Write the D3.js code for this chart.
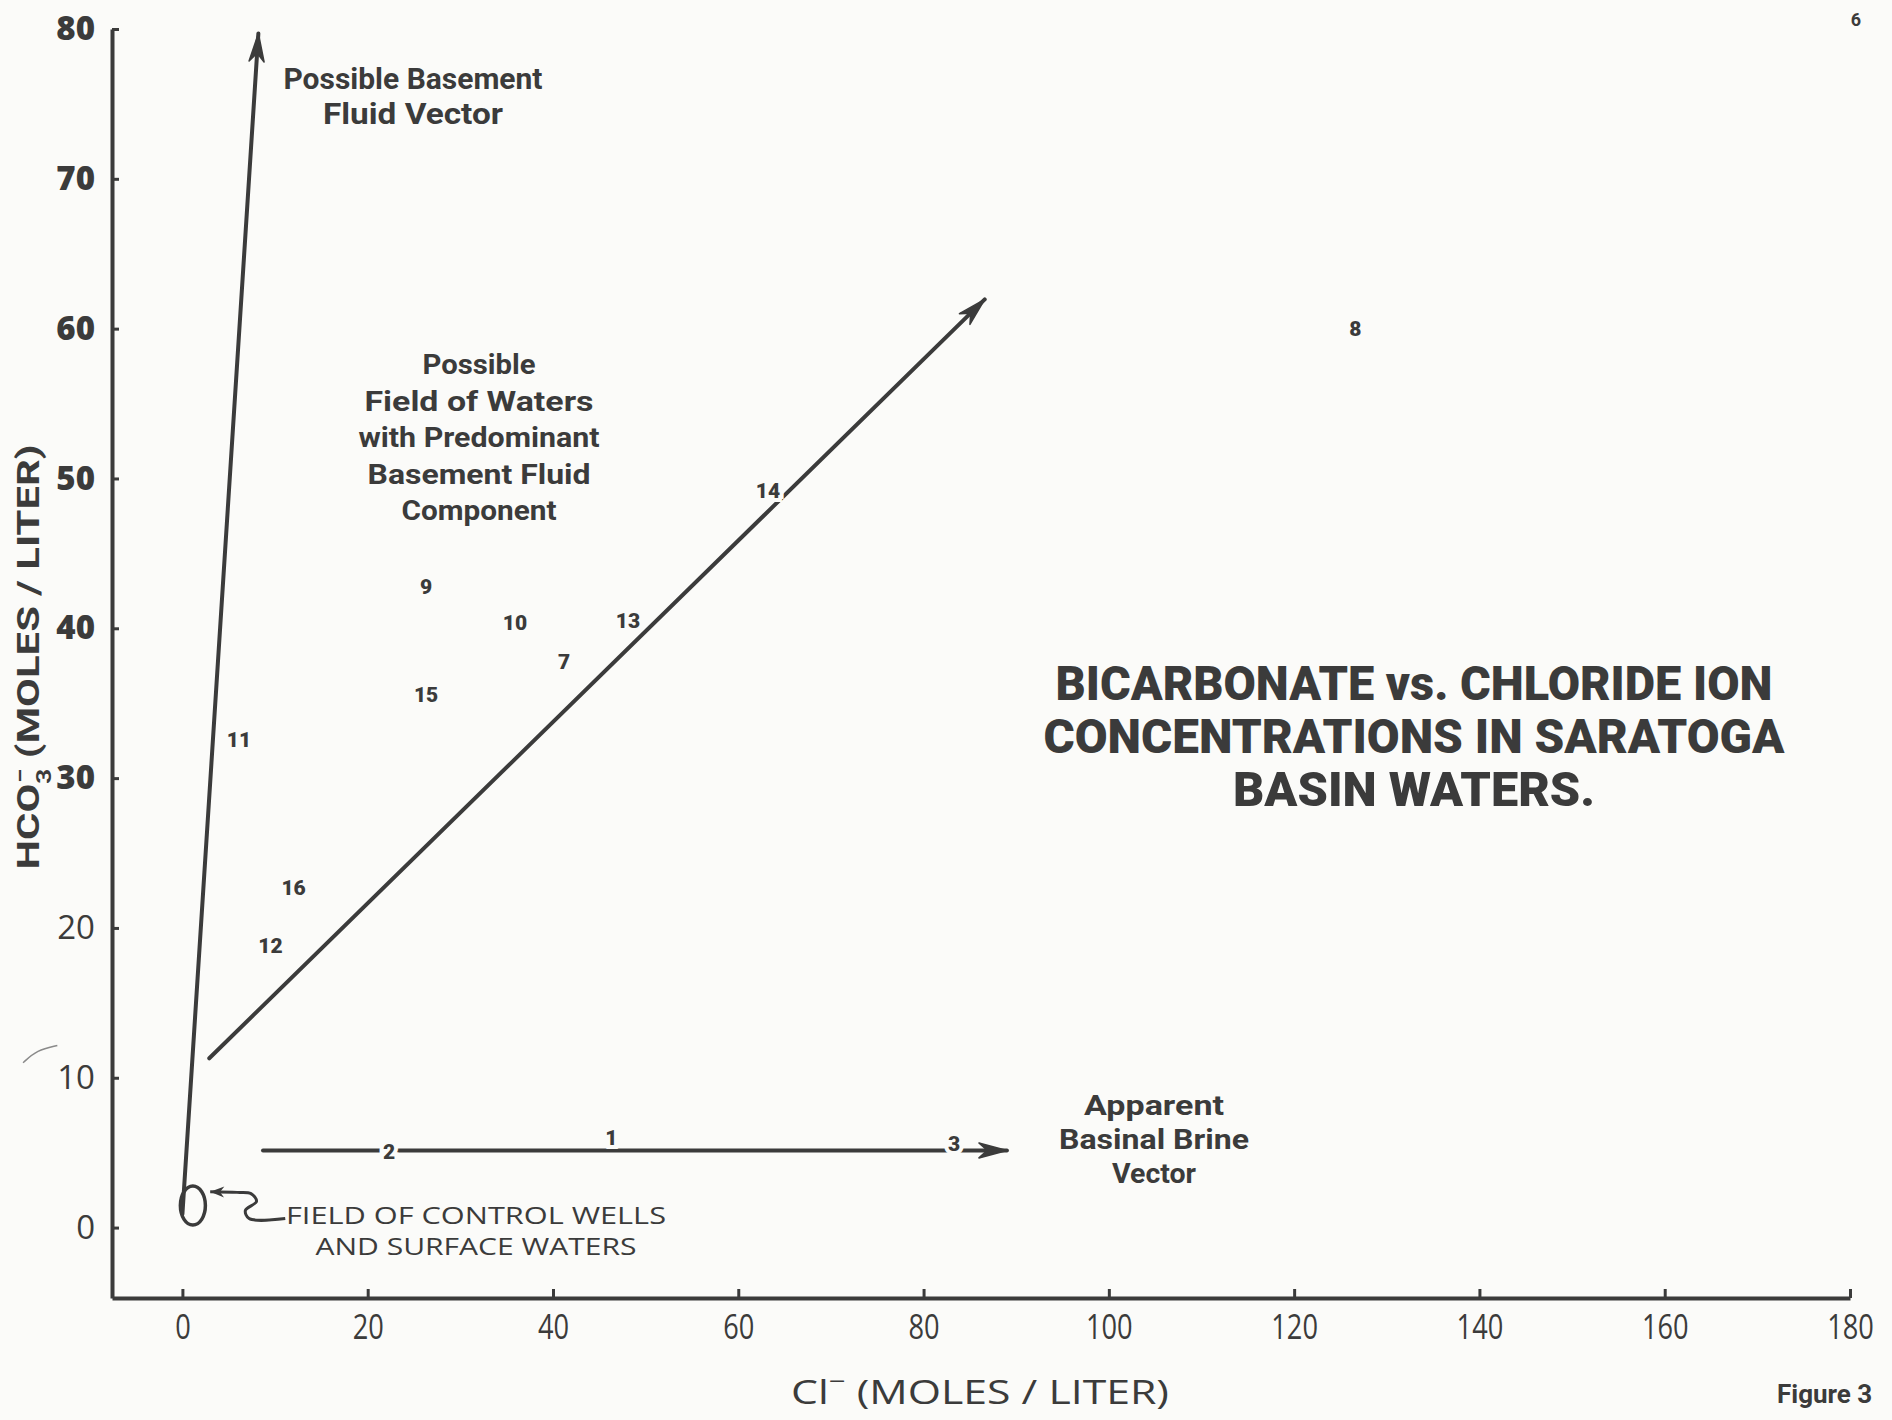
<!DOCTYPE html>
<html>
<head>
<meta charset="utf-8">
<script src="https://cdn.jsdelivr.net/npm/d3@7"></script>
<style>
  body { margin: 0; background: #fbfbf9; }
  svg { display: block; }
</style>
</head>
<body>
<svg id="chart" width="1892" height="1420"></svg>
<script>
// axis ticks
const xTicks = [0, 20, 40, 60, 80, 100, 120, 140, 160, 180];
const yTicks = [0, 10, 20, 30, 40, 50, 60, 70, 80];

// sample numbers plotted as labels (Cl-, HCO3-)
const sampleIds = ["8", "14", "9", "10", "13", "7", "15", "11", "16", "12", "2", "1", "3"];
const sampleCl = [126.6, 63.2, 26.3, 35.9, 48.1, 41.2, 26.3, 6.1, 12.0, 9.5, 22.3, 46.3, 83.3];
const sampleHco3 = [60.0, 49.2, 42.8, 40.4, 40.5, 37.8, 35.6, 32.6, 22.7, 18.8, 5.1, 6.0, 5.6];

// vectors drawn as arrows, start and end in data units
const vectorNames = ["basement", "mixing", "brine"];
const vectorStart = [[0.0, 0.9], [2.9, 11.3], [8.7, 5.15]];
const vectorEnd = [[8.2, 79.7], [86.6, 61.95], [89.0, 5.15]];

// control well field (ellipse) and its leader
const controlField = { cl: 1.13, hco3: 1.47, rCl: 1.35, rHco3: 1.3 };
const leaderCl = [11.1, 7.2, 6.8, 8.0, 7.4, 5.9, 3.0];
const leaderHco3 = [0.6, 0.6, 1.15, 1.75, 2.27, 2.35, 2.4];

// text
const titleLines = ["BICARBONATE vs. CHLORIDE ION", "CONCENTRATIONS IN SARATOGA", "BASIN WATERS."];
const basementLines = ["Possible Basement", "Fluid Vector"];
const fieldLines = ["Possible", "Field of Waters", "with Predominant", "Basement Fluid", "Component"];
const brineLines = ["Apparent", "Basinal Brine", "Vector"];
const controlLines = ["FIELD OF CONTROL WELLS", "AND SURFACE WATERS"];

const ink = "#3b3b3b";
const bg = "#fbfbf9";
const svg = d3.select("#chart");

svg.append("rect").attr("width", 1892).attr("height", 1420).attr("fill", bg);

const x = d3.scaleLinear().domain([-7.6, 180]).range([112, 1850]);
const y = d3.scaleLinear().domain([-4.7, 80]).range([1298, 29]);

// axes
let gx = svg.append("g")
  .attr("transform", "translate(0," + y(-4.7) + ")")
  .call(d3.axisBottom(x).tickValues(xTicks).tickSizeInner(-9).tickSizeOuter(0).tickPadding(17));
gx.select(".domain").attr("stroke", ink).attr("stroke-width", 4);
gx.selectAll(".tick line").attr("stroke", ink).attr("stroke-width", 3);
gx.selectAll(".tick text")
  .attr("fill", ink)
  .attr("transform", "scale(0.8,1)")
  .style("font-family", "'Open Sans', sans-serif")
  .style("font-size", "34px");

let gy = svg.append("g")
  .attr("transform", "translate(" + x(-7.6) + ",0)")
  .call(d3.axisLeft(y).tickValues(yTicks).tickSizeInner(-7).tickSizeOuter(0).tickPadding(17));
gy.select(".domain").attr("stroke", ink).attr("stroke-width", 4);
gy.selectAll(".tick line").attr("stroke", ink).attr("stroke-width", 3);
gy.selectAll(".tick text")
  .attr("fill", ink)
  .style("font-family", "'Open Sans', sans-serif")
  .style("font-size", "33px")
  .style("font-weight", d => d >= 30 ? 800 : 400);

// arrows
function arrowHead(p0, p1, len, wid) {
  let dx = p1[0] - p0[0], dy = p1[1] - p0[1];
  let n = Math.sqrt(dx * dx + dy * dy);
  let ux = dx / n, uy = dy / n, px = -uy, py = ux;
  let bx = p1[0] - ux * len, by = p1[1] - uy * len;
  let nx = p1[0] - ux * len * 0.7, ny = p1[1] - uy * len * 0.7;
  return [p1, [bx + px * wid / 2, by + py * wid / 2], [nx, ny], [bx - px * wid / 2, by - py * wid / 2]];
}

let vectors = vectorNames.map((name, i) => ({
  name: name,
  p0: [x(vectorStart[i][0]), y(vectorStart[i][1])],
  p1: [x(vectorEnd[i][0]), y(vectorEnd[i][1])]
}));

svg.selectAll(".vector")
  .data(vectors)
  .enter()
  .append("line")
  .attr("class", "vector")
  .attr("x1", d => d.p0[0]).attr("y1", d => d.p0[1])
  .attr("x2", d => d.p1[0]).attr("y2", d => d.p1[1])
  .attr("stroke", ink)
  .attr("stroke-width", 4)
  .attr("stroke-linecap", "round");

svg.selectAll(".head")
  .data(vectors)
  .enter()
  .append("polygon")
  .attr("class", "head")
  .attr("points", d => arrowHead(d.p0, d.p1, 28, 15).map(p => p.join(",")).join(" "))
  .attr("fill", ink)
  .attr("stroke", ink)
  .attr("stroke-width", 1.5)
  .attr("stroke-linejoin", "round");

// control field ellipse
svg.append("ellipse")
  .attr("cx", x(controlField.cl))
  .attr("cy", y(controlField.hco3))
  .attr("rx", x(controlField.rCl) - x(0))
  .attr("ry", y(0) - y(controlField.rHco3))
  .attr("fill", "none")
  .attr("stroke", ink)
  .attr("stroke-width", 3.5);

let leaderPts = leaderCl.map((c, i) => [x(c), y(leaderHco3[i])]);
svg.append("path")
  .attr("d", d3.line().curve(d3.curveCatmullRom)(leaderPts))
  .attr("fill", "none")
  .attr("stroke", ink)
  .attr("stroke-width", 3);
let lp = leaderPts.length;
svg.append("polygon")
  .attr("points", arrowHead(leaderPts[lp - 2], leaderPts[lp - 1], 14, 11).map(p => p.join(",")).join(" "))
  .attr("fill", ink);

// stray pen mark at left edge of the scan
svg.append("path")
  .attr("d", d3.line().curve(d3.curveBasis)([[x(-17.2), y(11.0)], [x(-15.7), y(11.85)], [x(-13.5), y(12.15)]]))
  .attr("fill", "none")
  .attr("stroke", "#8a8a8a")
  .attr("stroke-width", 1.5);

// sample labels
svg.selectAll(".sample")
  .data(sampleIds)
  .enter()
  .append("text")
  .attr("class", "sample")
  .attr("x", (d, i) => x(sampleCl[i]))
  .attr("y", (d, i) => y(sampleHco3[i]))
  .attr("dy", "0.36em")
  .attr("text-anchor", "middle")
  .attr("fill", ink)
  .attr("stroke", bg)
  .attr("stroke-width", 8)
  .attr("paint-order", "stroke")
  .style("font-family", "Roboto, sans-serif")
  .style("font-weight", 900)
  .style("font-size", "21px")
  .text(d => d);

// text blocks
function block(lines, cx, cy, gap, size, weight, family, widths) {
  let t = svg.append("g");
  t.selectAll("text")
    .data(lines)
    .enter()
    .append("text")
    .attr("x", cx)
    .attr("y", (d, i) => cy + i * gap)
    .attr("dy", "0.36em")
    .attr("text-anchor", "middle")
    .attr("fill", ink)
    .attr("textLength", (d, i) => widths ? widths[i] : null)
    .attr("lengthAdjust", "spacingAndGlyphs")
    .style("font-family", family)
    .style("font-size", size + "px")
    .style("font-weight", weight)
    .text(d => d);
  return t;
}

block(titleLines, 1414, 683, 53, 48, 900, "Roboto, sans-serif", [717, 741, 362]);
block(basementLines, 413, 78, 35, 30, 700, "Roboto, sans-serif", [259, 180]);
block(fieldLines, 479, 364, 36.5, 28, 700, "Roboto, sans-serif", [113, 229, 241, 223, 155]);
block(brineLines, 1154, 1105, 34, 28, 700, "Roboto, sans-serif", [140, 190, 84]);
block(controlLines, 476, 1215, 31, 24, 400, "'Open Sans', sans-serif", [380, 321]);

// axis titles
let xt = svg.append("text")
  .attr("x", 980)
  .attr("y", 1392)
  .attr("dy", "0.36em")
  .attr("text-anchor", "middle")
  .attr("fill", ink)
  .attr("textLength", 378)
  .attr("lengthAdjust", "spacingAndGlyphs")
  .style("font-family", "'Open Sans', sans-serif")
  .style("font-size", "32px");
xt.append("tspan").text("Cl");
xt.append("tspan").attr("baseline-shift", "super").style("font-size", "22px").text("\u2212");
xt.append("tspan").text(" (MOLES / LITER)");

let yt = svg.append("text")
  .attr("transform", "translate(27,657) rotate(-90)")
  .attr("dy", "0.36em")
  .attr("text-anchor", "middle")
  .attr("fill", ink)
  .attr("textLength", 425)
  .attr("lengthAdjust", "spacingAndGlyphs")
  .style("font-family", "Roboto, sans-serif")
  .style("font-weight", 700)
  .style("font-size", "32px");
yt.append("tspan").text("HCO");
yt.append("tspan").attr("baseline-shift", "sub").style("font-size", "20px").text("3");
yt.append("tspan").attr("dx", -11).attr("baseline-shift", "super").style("font-size", "20px").text("\u2212");
yt.append("tspan").text(" (MOLES / LITER)");

// page furniture
svg.append("text")
  .attr("x", 1777)
  .attr("y", 1394)
  .attr("dy", "0.36em")
  .attr("fill", ink)
  .style("font-family", "Roboto, sans-serif")
  .style("font-weight", 700)
  .style("font-size", "26px")
  .text("Figure 3");

svg.append("text")
  .attr("x", 1856)
  .attr("y", 20)
  .attr("dy", "0.36em")
  .attr("text-anchor", "middle")
  .attr("fill", ink)
  .style("font-family", "Roboto, sans-serif")
  .style("font-weight", 700)
  .style("font-size", "18px")
  .text("6");
</script>
</body>
</html>
